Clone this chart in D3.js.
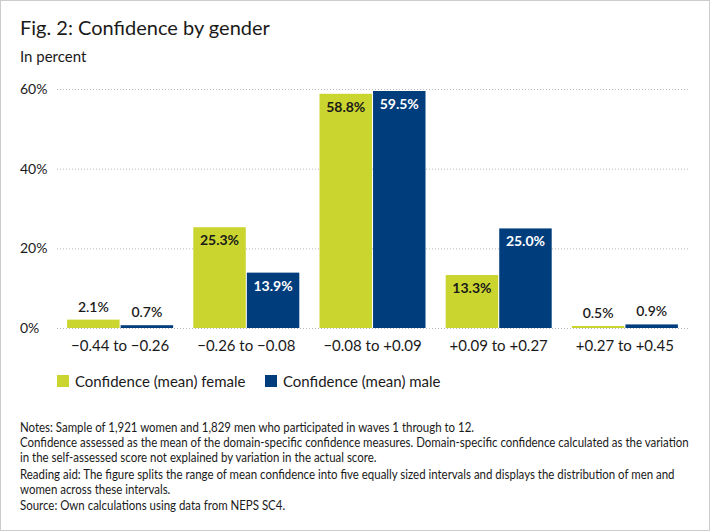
<html>
<head>
  <meta charset="UTF-8">
  <script src="https://d3js.org/d3.v7.min.js"></script>
  <style>
    body { margin: 0; background: #fff; }
    svg text { font-family: Lato, "Noto Sans", sans-serif; fill: #1a1a1a; }
  </style>
</head>
<body>
  <svg id="chart" width="710" height="531"></svg>
  <script>
    // data
    const categories = [ "\u22120.44 to \u22120.26", "\u22120.26 to \u22120.08", "\u22120.08 to +0.09", "+0.09 to +0.27", "+0.27 to +0.45" ];
    const female = [ 2.1, 25.3, 58.8, 13.3, 0.5 ];
    const male = [ 0.7, 13.9, 59.5, 25.0, 0.9 ];
    const seriesNames = [ "Confidence (mean) female", "Confidence (mean) male" ];
    const yTicks = [ 0, 20, 40, 60 ];
    const notes = [
      "Notes: Sample of 1,921 women and 1,829 men who participated in waves 1 through to 12.",
      "Confidence assessed as the mean of the domain-specific confidence measures. Domain-specific confidence calculated as the variation",
      "in the self-assessed score not explained by variation in the actual score.",
      "Reading aid: The figure splits the range of mean confidence into five equally sized intervals and displays the distribution of men and",
      "women across these intervals.",
      "Source: Own calculations using data from NEPS SC4."
    ];

    const colors = [ "#cbd52f", "#003d7c" ];
    const font = "Lato, Noto Sans, sans-serif";
    const svg = d3.select( "#chart" );

    // frame
    svg.append( "rect" )
      .attr( "x", 0.5 ).attr( "y", 0.5 )
      .attr( "width", 709 ).attr( "height", 530 )
      .attr( "fill", "#fff" ).attr( "stroke", "#cccccc" );

    // titles
    svg.append( "text" ).attr( "x", 20 ).attr( "y", 35 )
      .style( "font-size", "20px" ).text( "Fig. 2: Confidence by gender" );
    svg.append( "text" ).attr( "x", 20 ).attr( "y", 62 )
      .style( "font-size", "15px" ).text( "In percent" );

    // scales
    const x = d3.scaleBand().domain( categories ).range( [ 57, 688 ] ).paddingInner( 0.16 ).paddingOuter( 0.08 );
    const y = d3.scaleLinear().domain( [ 0, 60 ] ).range( [ 328, 89 ] );
    const x1 = d3.scaleBand().domain( [ 0, 1 ] ).range( [ 0, x.bandwidth() ] ).paddingInner( 0.02 );

    // grid + y tick labels
    const yAxis = svg.append( "g" )
      .attr( "transform", "translate(57,0)" )
      .call( d3.axisLeft( y ).tickValues( yTicks ).tickSize( -631 ).tickFormat( d => d + "%" ) );
    yAxis.select( ".domain" ).remove();
    yAxis.selectAll( ".tick line" )
      .attr( "stroke", "#bbbbbb" ).attr( "stroke-dasharray", "1,2" );
    yAxis.selectAll( ".tick text" )
      .attr( "text-anchor", "start" ).attr( "x", -37 )
      .style( "font-size", "14px" ).style( "font-family", font ).attr( "fill", "#1a1a1a" );

    // bars
    const series = [ female, male ];
    series.forEach( function ( vals, s ) {
      const g = svg.append( "g" );
      g.selectAll( "rect" )
        .data( vals ).enter()
        .append( "rect" )
        .attr( "x", ( d, i ) => x( categories[ i ] ) + x1( s ) )
        .attr( "y", d => y( d ) )
        .attr( "width", x1.bandwidth() )
        .attr( "height", d => y( 0 ) - y( d ) )
        .attr( "fill", colors[ s ] );

      g.selectAll( "text" )
        .data( vals ).enter()
        .append( "text" )
        .attr( "x", ( d, i ) => x( categories[ i ] ) + x1( s ) + x1.bandwidth() / 2 )
        .attr( "y", d => d > 5 ? y( d ) + 18 : y( d ) - 8 )
        .attr( "text-anchor", "middle" )
        .style( "font-size", "14px" )
        .style( "font-weight", d => d > 5 ? "bold" : "600" )
        .style( "fill", d => d > 5 && s === 1 ? "#ffffff" : "#1a1a1a" )
        .text( d => d.toFixed( 1 ) + "%" );
    } );

    // x axis labels
    const xAxis = svg.append( "g" )
      .attr( "transform", "translate(0,328)" )
      .call( d3.axisBottom( x ).tickSize( 0 ).tickPadding( 12 ) );
    xAxis.select( ".domain" ).remove();
    xAxis.selectAll( "text" )
      .style( "font-size", "15px" ).style( "font-family", font ).attr( "fill", "#1a1a1a" );

    // legend
    const legendX = [ 57, 265 ];
    seriesNames.forEach( function ( name, s ) {
      svg.append( "rect" )
        .attr( "x", legendX[ s ] ).attr( "y", 375 )
        .attr( "width", 12 ).attr( "height", 12 )
        .attr( "fill", colors[ s ] );
      svg.append( "text" )
        .attr( "x", legendX[ s ] + 18 ).attr( "y", 387 )
        .style( "font-size", "15px" ).text( name );
    } );

    // notes, squeezed horizontally so the longest line spans like the original
    const noteY = [ 432, 447, 462, 479, 494, 510 ];
    const noteG = svg.append( "g" );
    const noteTexts = noteG.selectAll( "text" )
      .data( notes ).enter()
      .append( "text" )
      .attr( "x", 0 )
      .attr( "y", ( d, i ) => noteY[ i ] )
      .style( "font-size", "12.5px" )
      .text( d => d );
    let widest = 0;
    noteTexts.each( function () { widest = Math.max( widest, this.getComputedTextLength() ); } );
    const k = Math.min( 1, 669 / widest );
    noteG.attr( "transform", "translate(20,0) scale(" + k + ",1)" );
  </script>
</body>
</html>
